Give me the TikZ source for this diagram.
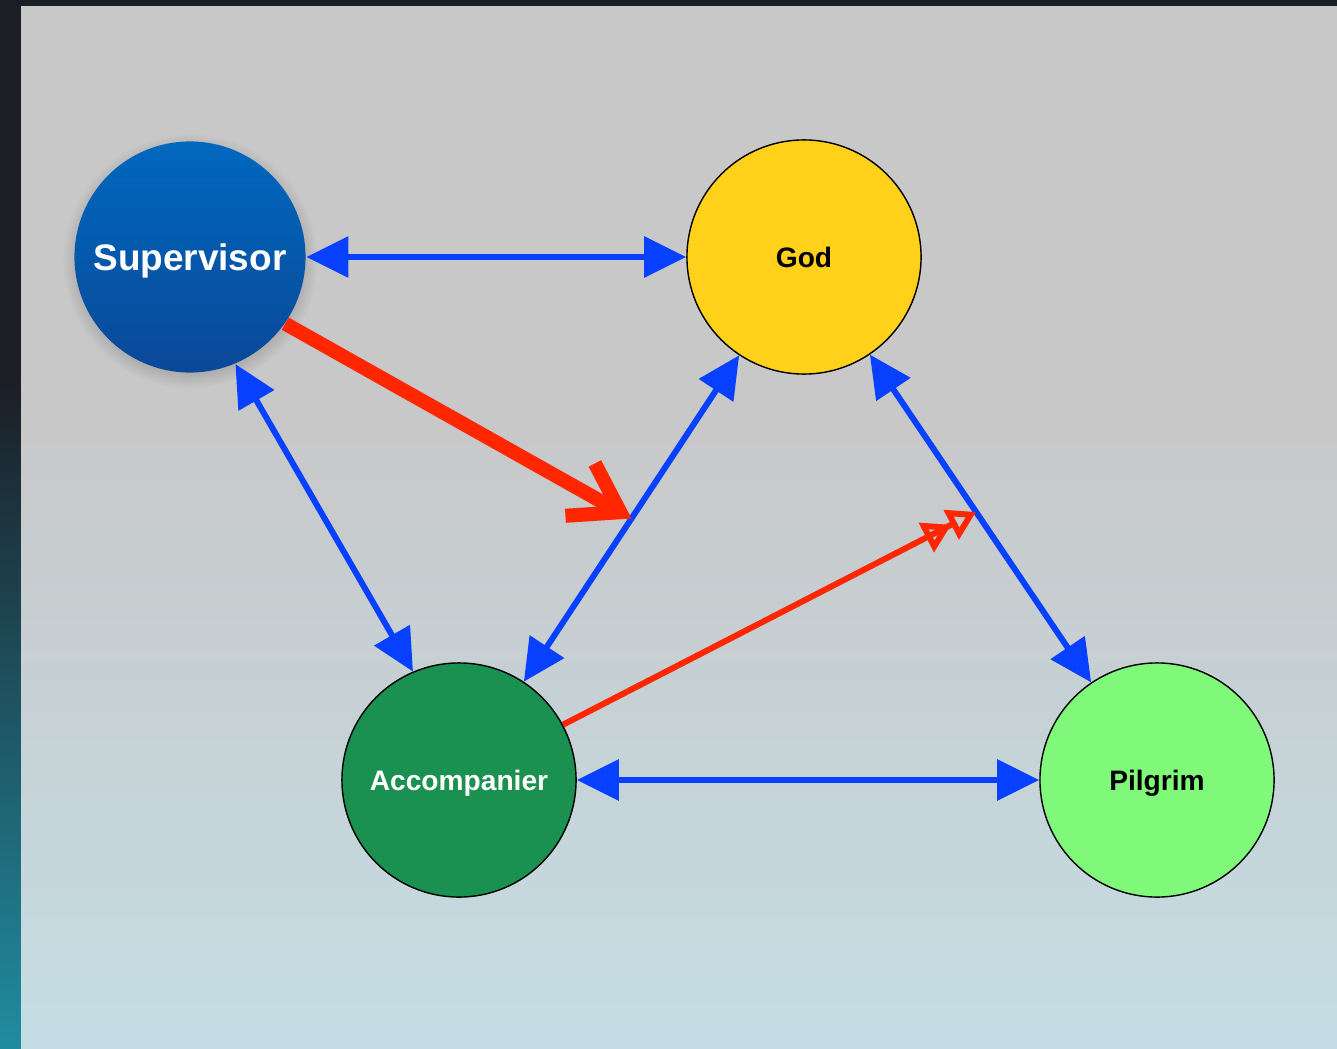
\documentclass[tikz,border=0pt]{standalone}
\usepackage{fontspec}
\setmainfont{Liberation Sans}
\usetikzlibrary{arrows.meta,shadows}
\definecolor{framedark}{RGB}{28,30,38}
\definecolor{frameteal}{RGB}{32,140,160}
\definecolor{panelgray}{RGB}{200,200,201}
\definecolor{panelsea}{RGB}{196,221,228}
\definecolor{suptop}{RGB}{0,104,190}
\definecolor{supbot}{RGB}{10,72,152}
\definecolor{godyellow}{RGB}{255,209,26}
\definecolor{accgreen}{RGB}{26,145,80}
\definecolor{pilgreen}{RGB}{128,249,122}
\definecolor{linkblue}{RGB}{8,64,255}
\definecolor{pathred}{RGB}{255,38,0}
\begin{document}
\begin{tikzpicture}[x=0.01cm,y=-0.01cm,
    person/.style={circle,minimum size=2.34cm,inner sep=0pt,text depth=0pt,font=\fontsize{8}{10}\selectfont\bfseries},
    link/.style={linkblue,line width=1.7pt,{Triangle[length=4.2mm,width=4mm]}-{Triangle[length=4.2mm,width=4mm]}},
    bigpush/.style={pathred,line width=4pt,-{Straight Barb[length=4.6mm,width=6mm]}},
    smallpush/.style={pathred,line width=1.7pt,-{Triangle[open,length=2.8mm,width=3.2mm,line width=1.7pt]Triangle[open,length=2.8mm,width=3.2mm,line width=1.7pt]}}]
  % backdrop
  \fill[framedark] (0,0) rectangle (1337,1049);
  \shade[top color=framedark,bottom color=frameteal] (0,380) rectangle (21,1049);
  \fill[panelgray] (21,6) rectangle (1337,1049);
  \shade[top color=panelgray,bottom color=panelsea] (21,430) rectangle (1337,1049);
  \useasboundingbox (0,0) rectangle (1337,1049);
  % people
  \node[person,top color=suptop,bottom color=supbot,text=white,
    circular drop shadow={shadow xshift=0pt,shadow yshift=-1pt,opacity=.45},
    minimum size=2.31cm,font=\fontsize{10.5}{12}\selectfont\bfseries] (sup) at (190,257) {Supervisor};
  \node[person,fill=godyellow,draw=black,thin] (god) at (804,257) {God};
  \node[person,fill=accgreen,draw=black,thin,text=white] (acc) at (459,780) {Accompanier};
  \node[person,fill=pilgreen,draw=black,thin] (pil) at (1157,780) {Pilgrim};
  % relations
  \draw[link] (sup) -- (god);
  \draw[link] (sup.293) -- (acc.113);
  \draw[link] (god) -- coordinate[pos=.5] (gamid) (acc);
  \draw[link] (god) -- coordinate[pos=.48] (gpmid) (pil);
  \draw[link] (acc) -- (pil);
  \draw[bigpush] (sup.325) -- (gamid);
  \draw[smallpush] (acc.28) -- (gpmid);
\end{tikzpicture}
\end{document}
